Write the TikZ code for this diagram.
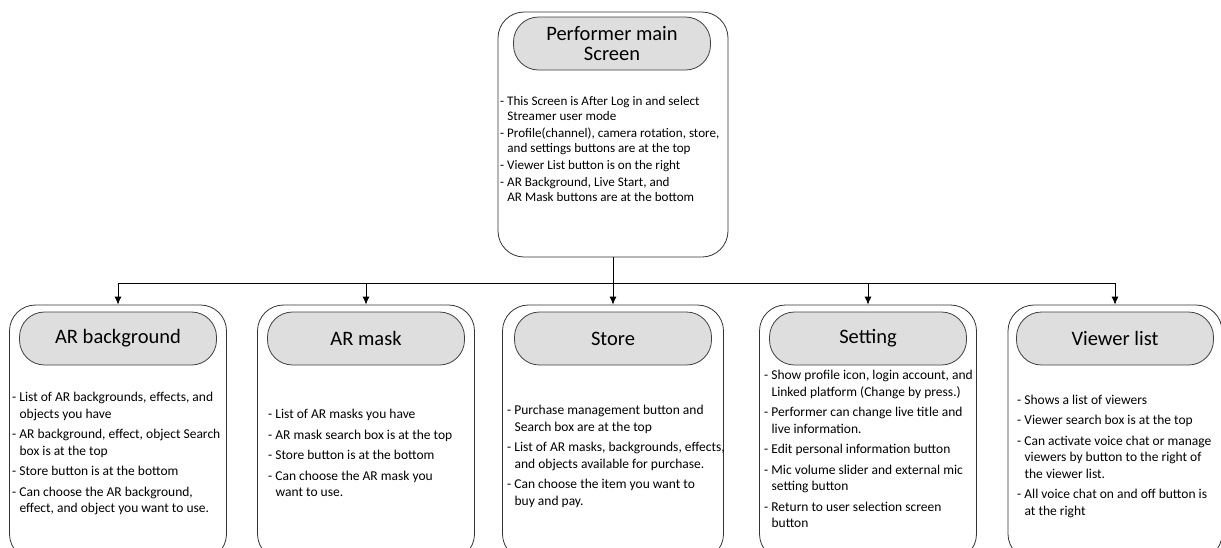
\documentclass[tikz,border=0pt]{standalone}
\usepackage{fontspec}
\setmainfont{Carlito}
\usetikzlibrary{arrows.meta,positioning,calc}
\tikzset{
  scbox/.style={draw=black!80, rounded corners=26pt, line width=0.8pt, minimum width=217pt, minimum height=255pt},
  scpill/.style={draw=black!75, fill=black!13, rounded corners=25pt, line width=0.8pt, minimum width=197pt, minimum height=53pt, align=center, font=\fontsize{20.5}{20.5}\selectfont},
  sctext/.style={align=left, anchor=west, inner sep=0pt, font=\fontsize{13.5}{16.5}\selectfont},
  scarrow/.style={-{Latex[length=8pt,width=7pt]}, line width=0.8pt},
  scline/.style={line width=0.8pt},
}
\newcommand{\ind}{\hspace*{0.55em}}

\begin{document}
\begin{tikzpicture}[x=1pt,y=-1pt]
  \useasboundingbox (0,0) rectangle (1221,547);
  \clip (0,0) rectangle (1221,547);

  % main screen
  \node[scbox, minimum width=230pt, minimum height=245pt] (main) at (613,134.5) {};
  \node[scpill] (maint) at (612,43.5) {Performer main\\Screen};
  \node[sctext, font=\fontsize{13.1}{14.8}\selectfont] (maintx) at (500,149)
    {- This Screen is After Log in and select\\\ind Streamer user mode\\[2.5pt]
     - Profile(channel), camera rotation, store,\\\ind and settings buttons are at the top\\[2.5pt]
     - Viewer List button is on the right\\[2.5pt]
     - AR Background, Live Start, and\\\ind AR Mask buttons are at the bottom};

  % sub screens
  \node[scbox] (bg) at (118,432.5) {};
  \node[scbox] (mask) at (366,432.5) {};
  \node[scbox, minimum width=221pt] (store) at (613,432.5) {};
  \node[scbox] (setting) at (868,432.5) {};
  \node[scbox, minimum width=214pt] (viewer) at (1115,432.5) {};

  \node[scpill] (bgt) at (118,338.5) {AR background};
  \node[scpill] (maskt) at (366,338.5) {AR mask};
  \node[scpill] (storet) at (613,338.5) {Store};
  \node[scpill] (settingt) at (868,338.5) {Setting};
  \node[scpill] (viewert) at (1115,338.5) {Viewer list};

  \node[sctext] (bgtx) at (12,453.5)
    {- List of AR backgrounds, effects, and\\\ind objects you have\\[4pt]
     - AR background, effect, object Search\\\ind box is at the top\\[4pt]
     - Store button is at the bottom\\[4pt]
     - Can choose the AR background,\\\ind effect, and object you want to use.};
  \node[sctext] (masktx) at (268,453)
    {- List of AR masks you have\\[4pt]
     - AR mask search box is at the top\\[4pt]
     - Store button is at the bottom\\[4pt]
     - Can choose the AR mask you\\\ind want to use.};
  \node[sctext] (storetx) at (507,456.5)
    {- Purchase management button and\\\ind Search box are at the top\\[4pt]
     - List of AR masks, backgrounds, effects,\\\ind and objects available for purchase.\\[4pt]
     - Can choose the item you want to\\\ind buy and pay.};
  \node[sctext] (settingtx) at (764,449)
    {- Show profile icon, login account, and\\\ind Linked platform (Change by press.)\\[4pt]
     - Performer can change live title and\\\ind live information.\\[4pt]
     - Edit personal information button\\[4pt]
     - Mic volume slider and external mic\\\ind setting button\\[4pt]
     - Return to user selection screen\\\ind button};
  \node[sctext] (viewertx) at (1017,456)
    {- Shows a list of viewers\\[4pt]
     - Viewer search box is at the top\\[4pt]
     - Can activate voice chat or manage\\\ind viewers by button to the right of\\\ind the viewer list.\\[4pt]
     - All voice chat on and off button is\\\ind at the right};

  % connectors
  \coordinate (hub) at ($(main.south)+(0,26)$);
  \draw[scline] (main.south) -- (hub);
  \draw[scarrow] (hub) -| (bg.north);
  \draw[scarrow] (hub) -| (mask.north);
  \draw[scarrow] (hub) -- (store.north);
  \draw[scarrow] (hub) -| (setting.north);
  \draw[scarrow] (hub) -| (viewer.north);
\end{tikzpicture}
\end{document}
